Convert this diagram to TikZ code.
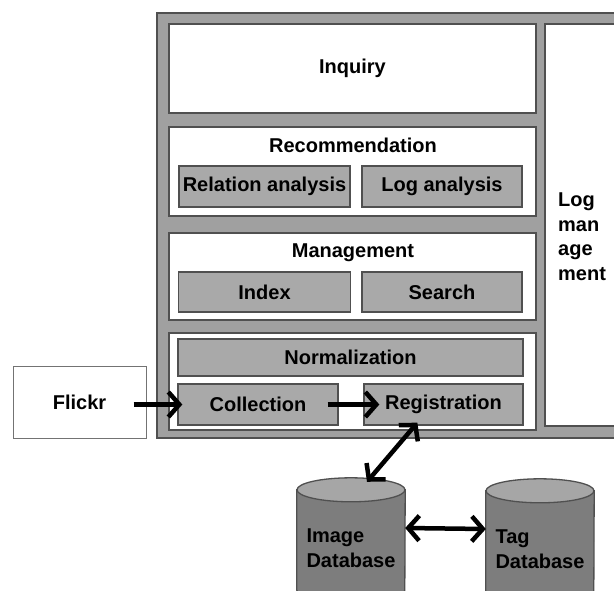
\documentclass[tikz,border=0pt]{standalone}
\usepackage{fontspec}
\setmainfont{Liberation Sans}
\usepackage{xcolor}
\usepackage{tikz}
\usetikzlibrary{arrows.meta}
\usetikzlibrary{positioning}
\definecolor{framegray}{HTML}{A0A0A0}
\definecolor{modgray}{HTML}{A9A9A9}
\definecolor{edgegray}{HTML}{505050}
\definecolor{dbbody}{HTML}{7D7D7D}
\definecolor{dbtop}{HTML}{A6A6A6}
\tikzstyle{frame} = [rectangle, draw=edgegray, line width=1.3pt, fill=framegray, inner sep=0pt]
\tikzstyle{panel} = [rectangle, draw=edgegray, line width=1.3pt, fill=white, inner sep=0pt]
\tikzstyle{module} = [rectangle, draw=edgegray, line width=1.3pt, fill=modgray, inner sep=0pt, text centered]
\tikzstyle{dbase} = [rectangle, minimum width=108pt, minimum height=124pt, inner sep=0pt]
\tikzstyle{dbtext} = [align=left, inner sep=0pt]
\tikzstyle{arrow} = [line width=4.5pt, -{Straight Barb[length=11pt,width=25pt]}]
\tikzstyle{dblarrow} = [line width=4.5pt, {Straight Barb[length=11pt,width=25pt]}-{Straight Barb[length=11pt,width=25pt]}]
% database drum drawn round a dbase node
\newcommand{\drum}[1]{%
  \filldraw [draw=edgegray, line width=1.3pt, fill=dbbody]
    ([yshift=-12pt]#1.north west) -- ([yshift=12pt]#1.south west)
    arc [start angle=180, end angle=360, x radius=54pt, y radius=12pt]
    -- ([yshift=-12pt]#1.north east) -- cycle;
  \filldraw [draw=edgegray, line width=1.3pt, fill=dbtop]
    ([yshift=-12pt]#1.north) ellipse [x radius=54pt, y radius=12pt];
}
\begin{document}
\begin{tikzpicture}[x=1pt, y=-1pt,
                    every node/.style={font=\fontsize{20}{24.5}\selectfont\bfseries}]

    \useasboundingbox (0,0) rectangle (614,590);

    % the system frame and its layers
    \node (sys) [frame, minimum width=480pt, minimum height=425pt] at (397,225.5) {};
    \node (logman) [panel, minimum width=90pt, minimum height=402pt] at (590,225) {};
    \node (logtext) [align=left, anchor=north west, inner sep=0pt] at (558,193) {Log\\man\\age\\ment};

    \node (inquiry) [panel, minimum width=367pt, minimum height=89pt] at (352.5,68.5) {Inquiry};

    \node (recom) [panel, minimum width=367pt, minimum height=89pt] at (352.5,171.5) {};
    \node (recomtitle) at (353,145) {Recommendation};
    \node (relation) [module, minimum width=171pt, minimum height=41pt] at (264.5,186.5) {Relation analysis};
    \node (loganal) [module, minimum width=160pt, minimum height=41pt] at (442,186.5) {Log analysis};

    \node (manage) [panel, minimum width=367pt, minimum height=87pt] at (352.5,276.5) {};
    \node (managetitle) at (353,253) {Management};
    \node (index) [module, minimum width=172pt, minimum height=40pt] at (264.5,292) {Index};
    \node (search) [module, minimum width=160pt, minimum height=40pt] at (442,292) {Search};

    \node (ingest) [panel, minimum width=367pt, minimum height=97pt] at (352.5,381.5) {};
    \node (normal) [module, minimum width=345pt, minimum height=37pt] at (350.5,357.5) {Normalization};
    \node (collect) [module, minimum width=160pt, minimum height=41pt] at (258,404.5) {Collection};
    \node (regist) [module, minimum width=159pt, minimum height=41pt] at (443.5,404.5) {Registration};

    % outside
    \node (flickr) [panel, line width=1pt, draw=edgegray!80, minimum width=133pt, minimum height=72pt] at (79.5,402) {Flickr};
    \node (imgdb) [dbase] at (351,540) {};
    \node (tagdb) [dbase] at (540,541) {};
    \drum{imgdb}
    \drum{tagdb}
    \node (imglabel) [dbtext] at ([yshift=-8pt]imgdb.center) {Image\\Database};
    \node (taglabel) [dbtext] at ([yshift=-8pt]tagdb.center) {Tag\\Database};

    \draw [arrow] ([xshift=-13pt]flickr.east |- collect.west) -- ([xshift=5pt]collect.west);
    \draw [arrow] ([xshift=-11pt]collect.east) -- ([xshift=16pt]regist.west);
    \draw [dblarrow] ([xshift=54pt,yshift=3pt]regist.south west) -- ([xshift=16pt,yshift=-4pt]imgdb.north);
    \draw [dblarrow] ([yshift=12pt]imgdb.east) -- ([yshift=12pt]tagdb.west);

\end{tikzpicture}
\end{document}
